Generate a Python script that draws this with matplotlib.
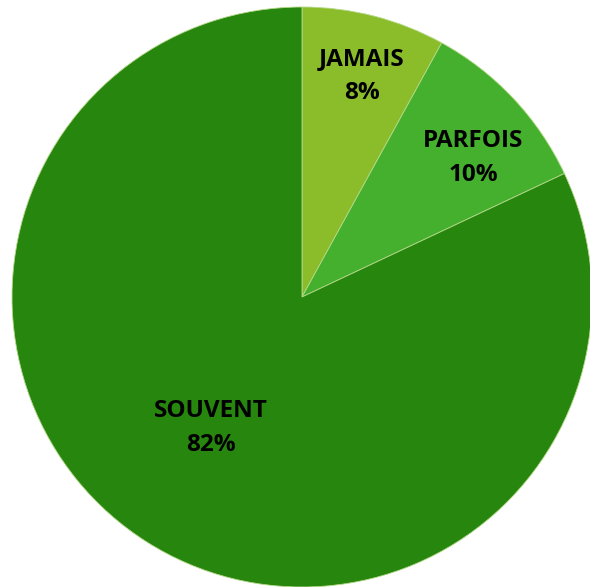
import matplotlib
matplotlib.use("Agg")
from matplotlib import pyplot as plt
import numpy as np

# data
categories = ["JAMAIS", "PARFOIS", "SOUVENT"]
values = [8, 10, 82]
colors = ["#8BBD2B", "#45B02D", "#27860E"]
# where each label sits along its wedge (fraction of radius, angle shift in deg)
label_r = [0.79, 0.76, 0.55]
label_shift = [-0.7, -4.2, -2.6]

fig = plt.figure(figsize=(5.90, 5.87), dpi=100)
ax = fig.add_axes([0, 0, 1, 1])

cx, cy, R = 302, 290, 290
wedges, _ = ax.pie(values, colors=colors, startangle=90, counterclock=False,
                   radius=R, center=(cx, cy), frame=True,
                   wedgeprops=dict(linewidth=0.6, edgecolor="#b5d98a"))
ax.set_xlim(0, 590)
ax.set_ylim(0, 587)
ax.set_aspect("equal")
ax.axis("off")

for w, name, v, fr, sh in zip(wedges, categories, values, label_r, label_shift):
	mid = np.deg2rad((w.theta1 + w.theta2) / 2 + sh)
	x = cx + fr * R * np.cos(mid)
	y = cy + fr * R * np.sin(mid)
	ax.text(x, y, "%s\n%d%%" % (name, v), ha="center", va="center",
	        fontsize=17.5, fontweight="bold", family="Open Sans",
	        linespacing=1.55, color="black")

plt.savefig("out.png", dpi=100)
